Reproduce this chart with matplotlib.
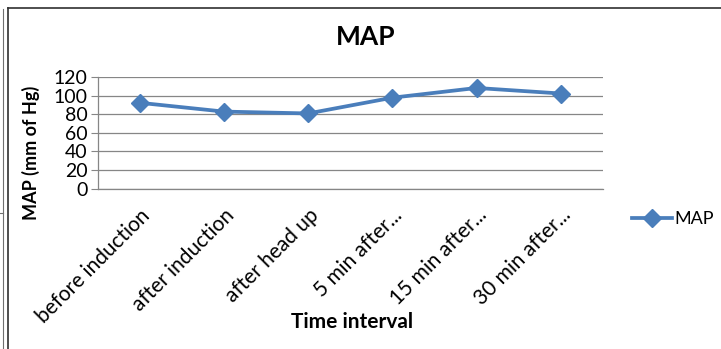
import matplotlib.pyplot as plt
from matplotlib.lines import Line2D

# data
labels = ["before induction", "after induction", "after head up",
          "5 min after...", "15 min after...", "30 min after..."]
map_values = [92.5, 83, 81, 98, 108.5, 102.5]
y_ticks = [0, 20, 40, 60, 80, 100, 120]

plt.rcParams['font.family'] = ['Lato', 'DejaVu Sans']

fig = plt.figure(figsize=(7.21, 3.49), dpi=100)
W, H = 721, 349

# chart frame and page fragment on the left
fig.add_artist(Line2D([8 / W, 8 / W], [0, 1 - 8 / H], color='#303030', lw=1.2))
fig.add_artist(Line2D([8 / W, 1], [1 - 8 / H, 1 - 8 / H], color='#303030', lw=1.2))
fig.add_artist(Line2D([3 / W, 3 / W], [0, 1 - 9 / H], color='#707070', lw=0.8))
fig.add_artist(Line2D([0, 3 / W], [1 - 213 / H, 1 - 213 / H], color='#707070', lw=0.8))

ax = fig.add_axes([97.5 / W, 1 - 188.5 / H, (603 - 97.5) / W, (188.5 - 77.3) / H])
x = list(range(len(labels)))
ax.plot(x, map_values, color='#4A7EBB', lw=2.7, marker='D', markersize=9,
        label='MAP')

ax.set_xlim(-0.5, len(labels) - 0.5)
ax.set_ylim(0, 120)
ax.set_yticks(y_ticks)
ax.set_xticks(x)
ax.set_xticklabels(labels, rotation=45, ha='right', rotation_mode='anchor',
                   fontsize=15)
ax.tick_params(axis='y', labelsize=14, length=5, color='#868686', pad=2)
ax.tick_params(axis='x', length=0, pad=12)
ax.grid(axis='y', color='#868686', lw=0.9)
ax.set_axisbelow(True)
for s in ['top', 'right']:
    ax.spines[s].set_visible(False)
for s in ['left', 'bottom']:
    ax.spines[s].set_color('#868686')
    ax.spines[s].set_linewidth(0.9)

fig.text(366 / W, 1 - 37 / H, 'MAP', fontsize=19, fontweight='bold',
         ha='center', va='center')
fig.text(31 / W, 1 - 153 / H, 'MAP (mm of Hg)', fontsize=13, fontweight='bold',
         rotation=90, ha='center', va='center')
fig.text(352 / W, 1 - 322 / H, 'Time interval', fontsize=15, fontweight='bold',
         ha='center', va='center')

ax.legend(loc='center left', bbox_to_anchor=(632 / W, 1 - 219 / H),
          bbox_transform=fig.transFigure, frameon=False, fontsize=13,
          handlelength=2.2, handletextpad=0.15, borderpad=0, borderaxespad=0)

fig.savefig('out.png', dpi=100)
